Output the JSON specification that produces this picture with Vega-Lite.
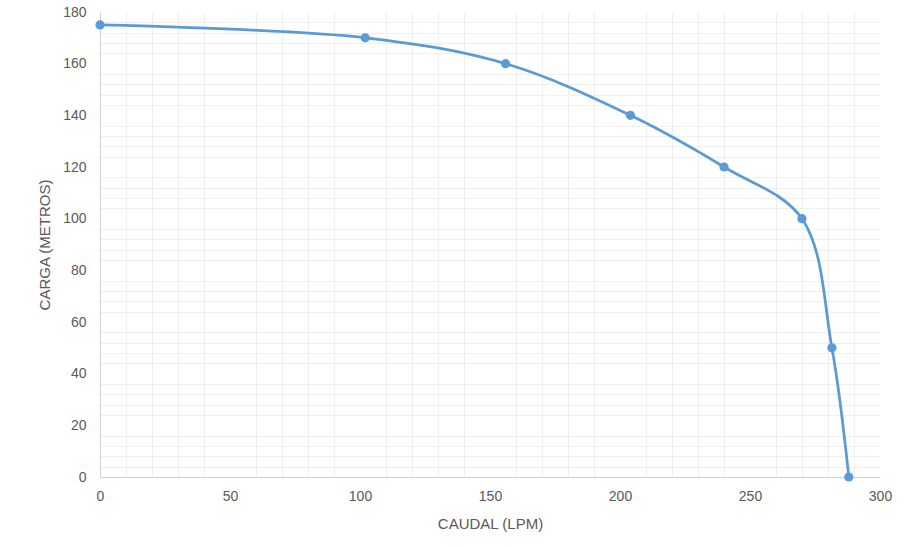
{
  "$schema": "https://vega.github.io/schema/vega-lite/v6.json",
  "width": 780,
  "height": 465,
  "autosize": {"type": "none"},
  "padding": {"left": 100, "top": 12, "right": 37, "bottom": 71},
  "background": "white",
  "config": {
    "view": {"stroke": null},
    "axis": {"labelFont": "Liberation Sans", "titleFont": "Liberation Sans", "labelColor": "#595959", "titleColor": "#595959", "labelFontSize": 14, "titleFontSize": 15, "titleFontWeight": "normal", "labelFlush": false}
  },
  "data": {"values": [
    {"caudal": 0, "carga": 175},
    {"caudal": 102, "carga": 170},
    {"caudal": 156, "carga": 160},
    {"caudal": 204, "carga": 140},
    {"caudal": 240, "carga": 120},
    {"caudal": 270, "carga": 100},
    {"caudal": 281.5, "carga": 50},
    {"caudal": 288, "carga": 0}
  ]},
  "resolve": {"axis": {"x": "independent", "y": "independent"}},
  "layer": [
    {
      "mark": {"type": "point", "opacity": 0},
      "encoding": {
        "x": {"field": "caudal", "type": "quantitative", "scale": {"domain": [0, 300], "nice": false},
          "axis": {"orient": "bottom", "values": [10,20,30,40,60,70,80,90,110,120,130,140,160,170,180,190,210,220,230,240,260,270,280,290], "labels": false, "ticks": false, "domain": false, "title": null, "gridColor": "#efefef", "gridWidth": 1}},
        "y": {"field": "carga", "type": "quantitative", "scale": {"domain": [0, 180], "nice": false},
          "axis": {"orient": "left", "values": [4,8,12,16,24,28,32,36,44,48,52,56,64,68,72,76,84,88,92,96,104,108,112,116,124,128,132,136,144,148,152,156,164,168,172,176], "labels": false, "ticks": false, "domain": false, "title": null, "gridColor": "#efefef", "gridWidth": 1}}
      }
    },
    {
      "mark": {"type": "line", "interpolate": "catmull-rom", "color": "#5B9BD5", "strokeWidth": 2.75},
      "encoding": {
        "x": {"field": "caudal", "type": "quantitative", "scale": {"domain": [0, 300], "nice": false},
          "axis": {"orient": "bottom", "values": [0, 50, 100, 150, 200, 250, 300], "ticks": false, "domainColor": "#d0d0d0", "gridColor": "#d9d9d9", "labelPadding": 12, "title": "CAUDAL (LPM)", "titlePadding": 13}},
        "y": {"field": "carga", "type": "quantitative", "scale": {"domain": [0, 180], "nice": false},
          "axis": {"orient": "left", "values": [0, 20, 40, 60, 80, 100, 120, 140, 160, 180], "ticks": false, "domainColor": "#d0d0d0", "gridColor": "#d9d9d9", "labelPadding": 14, "title": "CARGA (METROS)", "titlePadding": 10}}
      }
    },
    {
      "mark": {"type": "point", "filled": true, "opacity": 1, "color": "#5B9BD5", "size": 85},
      "encoding": {
        "x": {"field": "caudal", "type": "quantitative", "axis": null},
        "y": {"field": "carga", "type": "quantitative", "axis": null}
      }
    }
  ]
}
